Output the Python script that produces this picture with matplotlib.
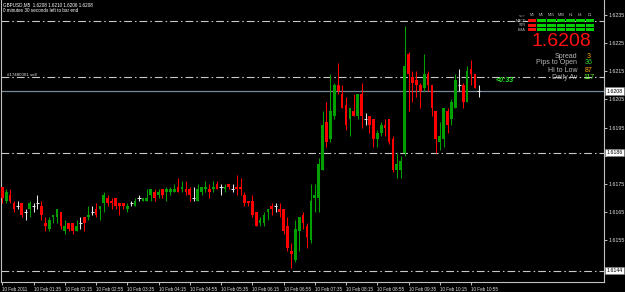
import matplotlib
matplotlib.use('Agg')
import matplotlib.pyplot as plt
from matplotlib.patches import Rectangle
import matplotlib.transforms as mtransforms
import numpy as np

plt.rcParams['font.family'] = ['Liberation Sans', 'DejaVu Sans']

# ---------------- data ----------------
symbol = "GBPUSD,M5"

opens = [1.6174, 1.6169, 1.6171, 1.6168, 1.6167, 1.6168, 1.6165, 1.6166, 1.6167, 1.6168,
         1.6167, 1.6161, 1.6159, 1.6163, 1.6163, 1.6165, 1.6158, 1.6161, 1.6161, 1.6158,
         1.6161, 1.6163, 1.6163, 1.6165, 1.6166, 1.6166, 1.6168, 1.6170, 1.6169, 1.6170,
         1.6168, 1.6168, 1.6166, 1.6168, 1.6167, 1.6170, 1.6169, 1.6169, 1.6171, 1.6172,
         1.6171, 1.6173, 1.6172, 1.6172, 1.6172, 1.6174, 1.6173, 1.6173, 1.6173, 1.6170,
         1.6169, 1.6172, 1.6173, 1.6173, 1.6173, 1.6175, 1.6174, 1.6173, 1.6175, 1.6173,
         1.6174, 1.6174, 1.6171, 1.6169, 1.6169, 1.6165, 1.6161, 1.6161, 1.6165, 1.6167,
         1.6167, 1.6166, 1.6166, 1.6160, 1.6151, 1.6148, 1.6158, 1.6164, 1.6160, 1.6155,
         1.6170, 1.6170, 1.6180, 1.6197, 1.6191, 1.6199, 1.6210, 1.6207, 1.6203, 1.6198,
         1.6201, 1.6199, 1.6207, 1.6198, 1.6199, 1.6198, 1.6191, 1.6193, 1.6196, 1.6198,
         1.6191, 1.6180, 1.6180, 1.6186, 1.6221, 1.6213, 1.6212, 1.6210, 1.6209, 1.6214,
         1.6210, 1.6201, 1.6190, 1.6191, 1.6201, 1.6198, 1.6202, 1.6210, 1.6210, 1.6204,
         1.6216, 1.6214, 1.6208]

highs = [1.6174, 1.6173, 1.6173, 1.6169, 1.6169, 1.6168, 1.6166, 1.6169, 1.6168, 1.6171,
         1.6169, 1.6163, 1.6163, 1.6164, 1.6166, 1.6165, 1.6162, 1.6161, 1.6161, 1.6162,
         1.6163, 1.6163, 1.6167, 1.6167, 1.6168, 1.6167, 1.6172, 1.6171, 1.6170, 1.6170,
         1.6168, 1.6168, 1.6168, 1.6169, 1.6170, 1.6171, 1.6170, 1.6173, 1.6173, 1.6173,
         1.6173, 1.6173, 1.6174, 1.6174, 1.6175, 1.6177, 1.6176, 1.6176, 1.6174, 1.6174,
         1.6175, 1.6174, 1.6176, 1.6175, 1.6176, 1.6176, 1.6175, 1.6175, 1.6175, 1.6175,
         1.6178, 1.6177, 1.6172, 1.6169, 1.6171, 1.6165, 1.6163, 1.6165, 1.6166, 1.6168,
         1.6168, 1.6168, 1.6166, 1.6163, 1.6154, 1.6162, 1.6163, 1.6165, 1.6161, 1.6175,
         1.6175, 1.6184, 1.6201, 1.6204, 1.6214, 1.6211, 1.6218, 1.6210, 1.6206, 1.6202,
         1.6207, 1.6207, 1.6211, 1.6200, 1.6199, 1.6198, 1.6194, 1.6197, 1.6198, 1.6198,
         1.6192, 1.6186, 1.6185, 1.6231, 1.6222, 1.6215, 1.6215, 1.6211, 1.6221, 1.6215,
         1.6210, 1.6201, 1.6197, 1.6202, 1.6202, 1.6205, 1.6214, 1.6216, 1.6211, 1.6217,
         1.6219, 1.6214, 1.6210]

lows = [1.6168, 1.6168, 1.6168, 1.6165, 1.6166, 1.6163, 1.6162, 1.6163, 1.6165, 1.6166,
        1.6162, 1.6158, 1.6158, 1.6161, 1.6161, 1.6159, 1.6157, 1.6158, 1.6157, 1.6158,
        1.6159, 1.6158, 1.6162, 1.6164, 1.6163, 1.6162, 1.6165, 1.6167, 1.6166, 1.6166,
        1.6164, 1.6166, 1.6165, 1.6167, 1.6167, 1.6169, 1.6169, 1.6169, 1.6169, 1.6169,
        1.6170, 1.6170, 1.6169, 1.6171, 1.6172, 1.6172, 1.6172, 1.6171, 1.6169, 1.6169,
        1.6169, 1.6171, 1.6172, 1.6170, 1.6172, 1.6173, 1.6171, 1.6172, 1.6173, 1.6172,
        1.6171, 1.6171, 1.6167, 1.6167, 1.6163, 1.6160, 1.6160, 1.6160, 1.6162, 1.6164,
        1.6165, 1.6163, 1.6157, 1.6151, 1.6145, 1.6147, 1.6151, 1.6159, 1.6152, 1.6154,
        1.6165, 1.6165, 1.6180, 1.6188, 1.6190, 1.6198, 1.6207, 1.6202, 1.6194, 1.6192,
        1.6199, 1.6198, 1.6195, 1.6196, 1.6193, 1.6188, 1.6188, 1.6192, 1.6192, 1.6189,
        1.6179, 1.6177, 1.6177, 1.6185, 1.6201, 1.6204, 1.6206, 1.6202, 1.6208, 1.6208,
        1.6199, 1.6186, 1.6187, 1.6188, 1.6193, 1.6196, 1.6202, 1.6208, 1.6202, 1.6204,
        1.6210, 1.6209, 1.6206]

closes = [1.6170, 1.6172, 1.6169, 1.6166, 1.6167, 1.6164, 1.6165, 1.6168, 1.6167, 1.6168,
          1.6164, 1.6160, 1.6162, 1.6164, 1.6166, 1.6160, 1.6160, 1.6159, 1.6158, 1.6160,
          1.6161, 1.6161, 1.6164, 1.6165, 1.6164, 1.6167, 1.6171, 1.6168, 1.6168, 1.6167,
          1.6167, 1.6167, 1.6167, 1.6168, 1.6169, 1.6170, 1.6170, 1.6170, 1.6173, 1.6170,
          1.6172, 1.6171, 1.6173, 1.6173, 1.6173, 1.6172, 1.6174, 1.6172, 1.6171, 1.6170,
          1.6173, 1.6174, 1.6174, 1.6172, 1.6174, 1.6173, 1.6174, 1.6174, 1.6174, 1.6173,
          1.6173, 1.6173, 1.6168, 1.6168, 1.6164, 1.6160, 1.6162, 1.6164, 1.6166, 1.6166,
          1.6167, 1.6165, 1.6158, 1.6152, 1.6150, 1.6159, 1.6163, 1.6161, 1.6156, 1.6169,
          1.6171, 1.6182, 1.6196, 1.6190, 1.6201, 1.6210, 1.6208, 1.6202, 1.6196, 1.6202,
          1.6199, 1.6207, 1.6199, 1.6198, 1.6196, 1.6191, 1.6193, 1.6196, 1.6195, 1.6190,
          1.6180, 1.6182, 1.6183, 1.6217, 1.6214, 1.6211, 1.6210, 1.6208, 1.6214, 1.6210,
          1.6202, 1.6191, 1.6192, 1.6202, 1.6196, 1.6204, 1.6212, 1.6210, 1.6204, 1.6215,
          1.6214, 1.6209, 1.6208]

time_labels = ["10 Feb 2011", "10 Feb 01:35", "10 Feb 02:15", "10 Feb 02:55",
               "10 Feb 03:35", "10 Feb 04:15", "10 Feb 04:55", "10 Feb 05:35",
               "10 Feb 06:15", "10 Feb 06:55", "10 Feb 07:35", "10 Feb 08:15",
               "10 Feb 08:55", "10 Feb 09:35", "10 Feb 10:15", "10 Feb 10:55"]
label_bars = [0, 8, 16, 24, 32, 40, 48, 56, 64, 72, 80, 88, 96, 104, 112, 120]

price_ticks = [1.6145, 1.6155, 1.6165, 1.6175, 1.6185, 1.6195, 1.6205, 1.6215, 1.6225, 1.6235]
level_prices = [1.6233, 1.6213, 1.6186, 1.6144]
boxed_prices = [1.6208, 1.6186, 1.6144]
bid_price = 1.6208
order_label = "#17480001 sell"
order_price = 1.6213

timeframes = ["M1", "M5", "M15", "M30", "H1", "H4", "D1"]
indicators = ["MACD", "STR", "EMA"]
signals = [[-1, 1, 1, 1, 1, 1, 1],
           [-1, 1, 1, 1, 1, 1, 1],
           [-1, 1, 1, 1, 1, 1, 1]]

stat_labels = ["Spread", "Pips to Open", "Hi to Low", "Daily Av"]
stat_values = ["3", "36", "87", "117"]
stat_colors = ["#ffa500", "#33dd33", "#ffa500", "#66ff22"]
countdown_text = "<0:33"
timer_text = "0 minutes 30 seconds left to bar end"

# ---------------- style ----------------
W, H = 625, 292
GREEN = "#00a000"
RED = "#ff0000"
DOJI = "#e8e8e8"
GRID = "#c8c8c8"
AXC = "#c0c0c0"

fig = plt.figure(figsize=(W / 100, H / 100), dpi=100, facecolor="black")
ax_left, ax_right, ax_top, ax_bot = 1.5, 604.0, 0.0, 282.0
ax = fig.add_axes([ax_left / W, 1 - ax_bot / H, (ax_right - ax_left) / W, (ax_bot - ax_top) / H])
ax.set_facecolor("black")

o = np.array(opens); h = np.array(highs); l = np.array(lows); c = np.array(closes)
x = np.arange(len(o))
up = c > o
dn = c < o
dj = ~(up | dn)
cols = np.where(up, GREEN, np.where(dn, RED, DOJI))

ax.vlines(x, l, h, colors=cols, lw=0.75, zorder=3)
bb = np.minimum(o, c)
bh = np.abs(c - o)
ax.bar(x[~dj], bh[~dj], bottom=bb[~dj], width=0.7, color=cols[~dj], lw=0, zorder=4)
ax.hlines(o[dj], x[dj] - 0.4, x[dj] + 0.4, colors=DOJI, lw=0.75, zorder=4)

px_per_bar = 3.906
x0_px = 2.3
ax.set_xlim((ax_left - x0_px) / px_per_bar, (ax_right - x0_px) / px_per_bar)
ax.set_ylim(1.61400, 1.62404)

dash = (0, (7, 2.7, 1.4, 2.7))
for lv in level_prices:
    ax.axhline(lv, color=GRID, lw=0.8, ls=dash, zorder=2)
ax.axhline(bid_price, color="#778899", lw=0.9, zorder=2)

for s in ["left", "right", "bottom"]:
    ax.spines[s].set_color(AXC)
    ax.spines[s].set_linewidth(0.8)
ax.spines["top"].set_visible(False)

# right price scale (labels hidden where a boxed price covers them)
ax.yaxis.tick_right()
ax.set_yticks(price_ticks)
ax.set_yticklabels(["" if min(abs(p - b) for b in boxed_prices) < 0.00015 else f"{p:.4f}"
                    for p in price_ticks])
ax.tick_params(axis="y", colors="#e0e0e0", labelsize=3.8, length=2, width=0.6, pad=1.5)
ax.set_xticks(label_bars)
ax.set_xticklabels(time_labels, ha="left")
ax.tick_params(axis="x", colors="#e0e0e0", labelsize=3.3, length=2.5, width=0.6, pad=0.8)

trans = mtransforms.blended_transform_factory(ax.transAxes, ax.transData)
for p in boxed_prices:
    ax.text(1.0 + 2.5 / (ax_right - ax_left), p, f"{p:.4f}", transform=trans, fontsize=3.8,
            color="black", va="center", ha="left", zorder=10, clip_on=False,
            bbox=dict(boxstyle="square,pad=0.2", fc="white", ec="#808080", lw=0.4))

ax.text(5 / px_per_bar, order_price, order_label, fontsize=3.2, color="#e0e0e0",
        va="bottom", ha="left", zorder=6)


def fx(px):
    return px / W


def fy(py):
    return 1 - py / H


# header text
fig.text(fx(3), fy(5), f"{symbol}  {opens[-1]:.4f} {highs[-1]:.4f} {lows[-1]:.4f} {closes[-1]:.4f}",
         fontsize=3.3, color="white", va="center", ha="left")
fig.text(fx(3), fy(11), timer_text, fontsize=3.3, color="white", va="center", ha="left")

# signal panel
col_x0, col_w = 527.0, 9.7
row_y = [19.0, 23.5, 28.0]
row_h = 3.4
fig.text(fx(522), fy(15), "<=>", fontsize=2.6, color="#c0c0c0", ha="center", va="center")
for j, tf in enumerate(timeframes):
    fig.text(fx(col_x0 + col_w * (j + 0.5)), fy(15), tf, fontsize=2.6, color="#c0c0c0",
             ha="center", va="center")
for i, name in enumerate(indicators):
    fig.text(fx(526), fy(row_y[i] + row_h / 2), name, fontsize=2.6, color="#c0c0c0",
             ha="right", va="center")
    for j in range(len(timeframes)):
        colr = "#00d000" if signals[i][j] > 0 else "#f01010"
        fig.patches.append(Rectangle((fx(col_x0 + col_w * j + 0.5), fy(row_y[i] + row_h)),
                                     (col_w - 1.0) / W, row_h / H, transform=fig.transFigure,
                                     fc=colr, ec="none"))

# big price
fig.text(fx(591), fy(42), f"{closes[-1]:.4f}", fontsize=14, color="#ff1010",
         ha="right", va="center")

stat_y = [56, 63, 70, 77.5]
for i, lab in enumerate(stat_labels):
    fig.text(fx(577), fy(stat_y[i]), lab, fontsize=5, color="#b8b8b8", ha="right", va="center",
             zorder=10)
    fig.text(fx(589), fy(stat_y[i]), stat_values[i], fontsize=5, color=stat_colors[i],
             ha="center", va="center", zorder=10)

fig.text(fx(496), fy(81), countdown_text, fontsize=5, color="#22ee22", ha="left", va="center",
         style="italic", weight="bold")

fig.savefig("out.png", dpi=100, facecolor="black")
